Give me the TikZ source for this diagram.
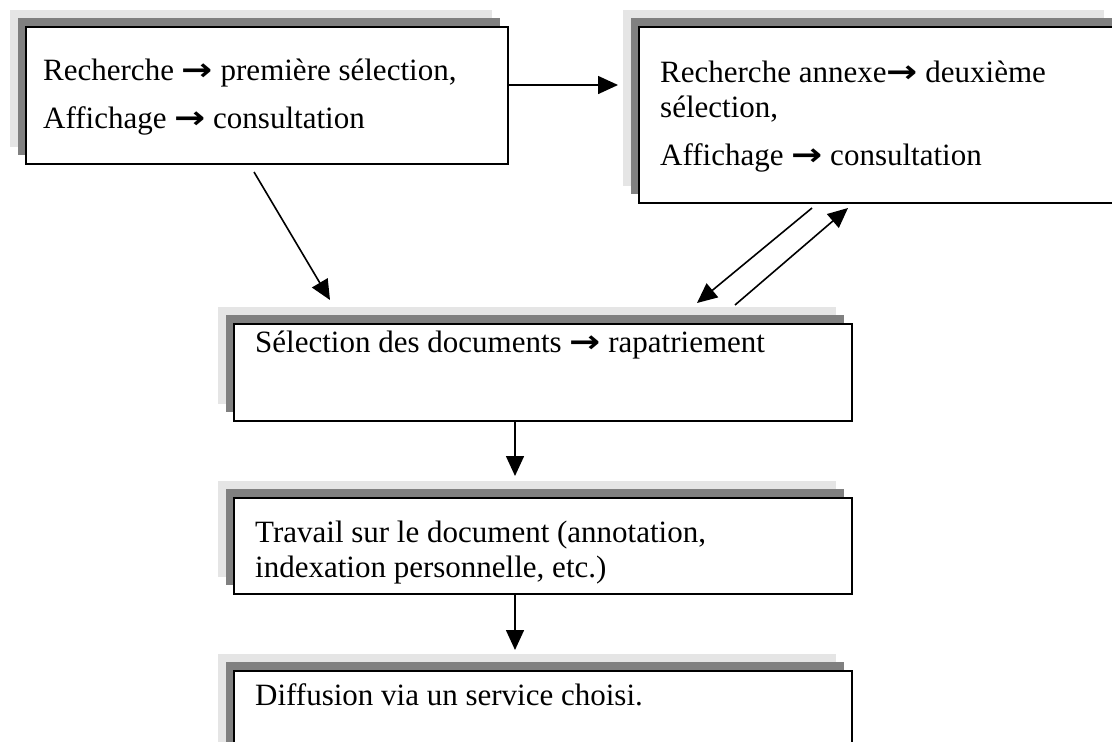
\documentclass[tikz,border=0pt]{standalone}
\usepackage{fontspec}
\setmainfont{Liberation Serif}
\newfontfamily\flechefont{DejaVu Sans}
\usetikzlibrary{arrows.meta,shadows,positioning}

\definecolor{ombreclaire}{HTML}{E5E5E5}
\definecolor{ombrefonce}{HTML}{808080}

\newcommand{\fl}{{\flechefont\bfseries\scalebox{1.2}[1]{\char"2192}}}

\tikzset{
  boite/.style={draw=black, line width=2pt, fill=white, anchor=north west, inner sep=0pt,
    general shadow={fill=ombreclaire, shadow xshift=-16pt, shadow yshift=17pt},
    general shadow={fill=ombrefonce, shadow xshift=-8pt, shadow yshift=9pt}},
  texte/.style={anchor=base west, inner sep=0pt, align=left,
    font=\fontsize{31pt}{35pt}\selectfont},
  fleche/.style={line width=1.6pt, -{Triangle[length=20pt,width=18pt]}}
}

\begin{document}
\begin{tikzpicture}[x=1pt,y=-1pt]

\clip (0,0) rectangle (1112,742);

% les boites
\node[boite, minimum width=482pt, minimum height=137pt] (rech1) at (25,26) {};
\node[boite, minimum width=481pt, minimum height=176pt] (rech2) at (638,26) {};
\node[boite, minimum width=618pt, minimum height=97pt] (sel) at (233,323) {};
\node[boite, minimum width=618pt, minimum height=96pt] (trav) at (233,497) {};
\node[boite, minimum width=618pt, minimum height=100pt] (diff) at (233,670) {};

% les textes (ancre = ligne de base de la derniere ligne)
\node[texte] (t1) at (43,128) {Recherche \fl{} première sélection,\\[13pt]Affichage \fl{} consultation};
\node[texte] (t2) at (660,165) {Recherche annexe\fl{} deuxième\\sélection,\\[13pt]Affichage \fl{} consultation};
\node[texte] (t3) at (255,352) {Sélection des documents \fl{} rapatriement};
\begin{scope}
  \clip (trav.north west) rectangle ([yshift=11pt]trav.south east);
  \node[texte] (t4) at (255,577) {Travail sur le document (annotation,\\indexation personnelle, etc.)};
\end{scope}
\node[texte] (t5) at (255,705) {Diffusion via un service choisi.};

% les fleches
\coordinate (a12) at (618,85);
\draw[fleche] (rech1.east |- a12) -- (a12);

\coordinate (a13) at (254,172);
\coordinate (b13) at (330,300);
\draw[fleche] (a13) -- (b13);

\coordinate (a23) at (812,208);
\coordinate (b23) at (697,303);
\draw[fleche] (a23) -- (b23);

\coordinate (a32) at (735,305);
\coordinate (b32) at (848,208);
\draw[fleche] (a32) -- (b32);

\coordinate (v34) at (515,476);
\draw[fleche] (sel.south -| v34) -- (v34);

\coordinate (v45) at (515,650);
\draw[fleche] (trav.south -| v45) -- (v45);

\end{tikzpicture}
\end{document}
